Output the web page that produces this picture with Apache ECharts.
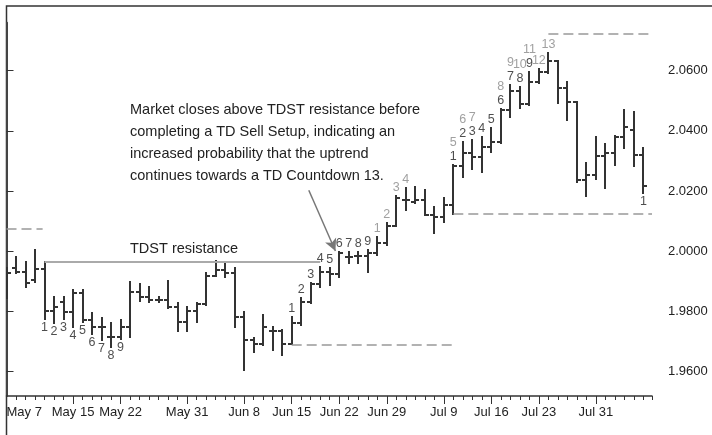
<!DOCTYPE html>
<html>
<head>
<meta charset="utf-8">
<script src="https://cdn.jsdelivr.net/npm/echarts@6/dist/echarts.min.js"></script>
<style>
  html, body { margin: 0; padding: 0; background: #fff; }
  #main { width: 712px; height: 435px; }
</style>
</head>
<body>
<div id="main"></div>
<script>
// x axis: one bar per trading day, index 0..67
const dateLabels = ["May 7", "May 15", "May 22", "May 31", "Jun 8", "Jun 15", "Jun 22", "Jun 29", "Jul 9", "Jul 16", "Jul 23", "Jul 31"]
const dateIndex = [0, 7, 12, 19, 25, 30, 35, 40, 46, 51, 56, 62]
const priceTicks = [1.96, 1.98, 2.0, 2.02, 2.04, 2.06]

const opens = [
  1.9925, 1.9943, 1.9932, 1.9905, 1.9940, 1.9803, 1.9833, 1.9800, 1.9862, 1.9772,
  1.9747, 1.9716, 1.9716, 1.9747, 1.9866, 1.9847, 1.9838, 1.9838, 1.9816, 1.9766,
  1.9803, 1.9825, 1.9918, 1.9938, 1.9929, 1.9783, 1.9705, 1.9692, 1.9736, 1.9736,
  1.9692, 1.9763, 1.9833, 1.9893, 1.9932, 1.9925, 1.9982, 1.9985, 1.9985, 1.9995,
  2.0027, 2.0084, 2.0170, 2.0165, 2.0170, 2.0121, 2.0115, 2.0154, 2.0283, 2.0328,
  2.0312, 2.0348, 2.0364, 2.0470, 2.0534, 2.0489, 2.0564, 2.0597, 2.0633, 2.0541,
  2.0497, 2.0237, 2.0254, 2.0317, 2.0328, 2.0379, 2.0403, 2.0320,
]
const highs = [
  1.9943, 1.9980, 1.9966, 2.0004, 1.9966, 1.9847, 1.9849, 1.9871, 1.9871, 1.9796,
  1.9779, 1.9763, 1.9772, 1.9899, 1.9891, 1.9882, 1.9849, 1.9902, 1.9827, 1.9816,
  1.9827, 1.9927, 1.9969, 1.9960, 1.9943, 1.9799, 1.9712, 1.9788, 1.9747, 1.9739,
  1.9781, 1.9845, 1.9896, 1.9949, 1.9944, 1.9999, 1.9999, 1.9999, 2.0004, 2.0049,
  2.0093, 2.0184, 2.0209, 2.0215, 2.0204, 2.0148, 2.0176, 2.0287, 2.0364, 2.0370,
  2.0381, 2.0409, 2.0474, 2.0553, 2.0547, 2.0597, 2.0605, 2.0658, 2.0633, 2.0564,
  2.0497, 2.0292, 2.0381, 2.0357, 2.0383, 2.0469, 2.0464, 2.0342,
]
const lows = [
  1.9844, 1.9927, 1.9882, 1.9899, 1.9775, 1.9763, 1.9775, 1.9747, 1.9766, 1.9725,
  1.9705, 1.9681, 1.9708, 1.9716, 1.9836, 1.9833, 1.9833, 1.9810, 1.9736, 1.9736,
  1.9766, 1.9822, 1.9918, 1.9914, 1.9747, 1.9605, 1.9665, 1.9690, 1.9672, 1.9655,
  1.9691, 1.9755, 1.9827, 1.9882, 1.9888, 1.9916, 1.9960, 1.9960, 1.9932, 1.9988,
  2.0021, 2.0084, 2.0137, 2.0160, 2.0121, 2.0060, 2.0098, 2.0124, 2.0248, 2.0272,
  2.0265, 2.0331, 2.0359, 2.0447, 2.0475, 2.0485, 2.0558, 2.0594, 2.0492, 2.0436,
  2.0230, 2.0184, 2.0239, 2.0209, 2.0287, 2.0342, 2.0283, 2.0195,
]
const closes = [
  1.9927, 1.9930, 1.9896, 1.9940, 1.9803, 1.9816, 1.9799, 1.9862, 1.9772, 1.9747,
  1.9747, 1.9716, 1.9747, 1.9866, 1.9849, 1.9838, 1.9838, 1.9816, 1.9766, 1.9803,
  1.9825, 1.9918, 1.9938, 1.9929, 1.9783, 1.9705, 1.9692, 1.9747, 1.9736, 1.9692,
  1.9763, 1.9833, 1.9893, 1.9932, 1.9925, 1.9995, 1.9982, 1.9985, 1.9993, 2.0027,
  2.0084, 2.0176, 2.0170, 2.0170, 2.0121, 2.0115, 2.0154, 2.0283, 2.0328, 2.0312,
  2.0348, 2.0364, 2.0470, 2.0534, 2.0489, 2.0564, 2.0597, 2.0633, 2.0541, 2.0497,
  2.0237, 2.0254, 2.0317, 2.0328, 2.0379, 2.0412, 2.0320, 2.0218,
]

// TD Sequential counts: bar index of each count 1, 2, 3 ...
const buySetupBars = [4, 5, 6, 7, 8, 9, 10, 11, 12]
const sellSetupBars = [30, 31, 32, 33, 34, 35, 36, 37, 38]
const sellSetup2Bars = [47, 48, 49, 50, 51, 52, 53, 54, 55]
const countdownBars = [39, 40, 41, 42, 47, 48, 49, 52, 53, 54, 55, 56, 57]
const newBuySetupBars = [67]

// levels: [from bar, to bar, price]
const tdstResistance = [4, 33, 1.9965]
const dashedLevels = [
  [0, 3.8, 2.0074],
  [30, 47, 1.9691],
  [47, 67.9, 2.0126],
  [57, 67.9, 2.0724],
]
const arrowFrom = [31.8, 2.0203]
const arrowTo = [34.6, 2.0001]

const xMax = 67.9
const font = "Liberation Sans, Arial, sans-serif"

const ohlc = opens.map((o, i) => [i, o, highs[i], lows[i], closes[i]])

const countLabels = (bars, anchor, color, position) =>
  bars.map((b, k) => {
    const stacked = color !== "#222" && sellSetup2Bars.includes(b)
    return {
      value: [b, anchor[b], String(k + 1)],
      label: {
        color,
        position,
        offset: stacked ? [0, -14] : [0, 0],
      },
    }
  })

const labelSeries = (data) => ({
  type: "scatter",
  symbolSize: 0,
  silent: true,
  data,
  label: {
    show: true,
    formatter: (p) => p.value[2],
    fontFamily: font,
    fontSize: 12.5,
    distance: 2,
  },
})

const chart = echarts.init(document.getElementById("main"))

const option = {
  animation: false,
  backgroundColor: "#fff",
  grid: { left: 6.5, right: 60, top: 22.7, bottom: 39, outerBoundsMode: "none" },
  xAxis: [
    {
      type: "value",
      min: 0,
      max: xMax,
      interval: 1,
      splitLine: { show: false },
      axisLine: { show: true, lineStyle: { color: "#333", width: 1.5 } },
      axisTick: { show: true, length: 4, lineStyle: { color: "#333", width: 1 } },
      axisLabel: { show: false },
    },
    {
      type: "value",
      min: 0,
      max: xMax,
      position: "bottom",
      splitLine: { show: false },
      axisLine: { show: false },
      axisTick: { show: true, length: 8, customValues: dateIndex, lineStyle: { color: "#333", width: 1 } },
      axisLabel: {
        show: true,
        customValues: dateIndex,
        formatter: (v) => dateLabels[dateIndex.indexOf(v)],
        alignMinLabel: "left",
        margin: 10,
        color: "#222",
        fontFamily: font,
        fontSize: 13,
      },
    },
  ],
  yAxis: {
    type: "value",
    position: "right",
    min: 1.95193,
    max: 2.07595,
    splitLine: { show: false },
    axisLine: { show: true, lineStyle: { color: "#444", width: 2 } },
    axisTick: { show: true, length: 7, customValues: priceTicks, lineStyle: { color: "#333", width: 1 } },
    axisLabel: {
      customValues: priceTicks,
      formatter: (v) => v.toFixed(4),
      margin: 16,
      color: "#222",
      fontFamily: font,
      fontSize: 13,
    },
  },
  series: [
    {
      type: "custom",
      clip: true,
      data: ohlc,
      renderItem: (params, api) => {
        const i = api.value(0)
        const o = api.coord([i, api.value(1)])
        const h = api.coord([i, api.value(2)])
        const l = api.coord([i, api.value(3)])
        const c = api.coord([i, api.value(4)])
        // snap to whole pixels so the 2px strokes stay crisp
        const x = Math.round(h[0])
        const style = { stroke: "#333", lineWidth: 2 }
        return {
          type: "group",
          children: [
            { type: "line", shape: { x1: x, y1: Math.round(h[1]) - 1, x2: x, y2: Math.round(l[1]) + 1 }, style },
            { type: "line", shape: { x1: x - 4, y1: Math.round(o[1]), x2: x, y2: Math.round(o[1]) }, style },
            { type: "line", shape: { x1: x, y1: Math.round(c[1]), x2: x + 4, y2: Math.round(c[1]) }, style },
          ],
        }
      },
      markLine: {
        silent: true,
        symbol: "none",
        label: { show: false },
        data: [
          [
            { coord: [tdstResistance[0], tdstResistance[2]], lineStyle: { color: "#aaa", width: 2, type: "solid" } },
            { coord: [tdstResistance[1], tdstResistance[2]] },
          ],
          ...dashedLevels.map((d) => [
            { coord: [d[0], d[2]], lineStyle: { color: "#999", width: 1.5, type: [10, 5] } },
            { coord: [d[1], d[2]] },
          ]),
          [
            { coord: arrowFrom, symbol: "none", lineStyle: { color: "#777", width: 1.5, type: "solid" } },
            { coord: arrowTo, symbol: "arrow", symbolSize: [9, 12] },
          ],
        ],
      },
    },
    labelSeries(countLabels(buySetupBars, lows, "#222", "bottom")),
    labelSeries(countLabels(sellSetupBars, highs, "#222", "top")),
    labelSeries(countLabels(sellSetup2Bars, highs, "#222", "top")),
    labelSeries(countLabels(countdownBars, highs, "#888", "top")),
    labelSeries(countLabels(newBuySetupBars, lows, "#222", "bottom")),
  ],
  graphic: [
    {
      type: "polyline",
      silent: true,
      shape: { points: [[6.5, 435], [6.5, 6], [712, 6]] },
      style: { stroke: "#333", lineWidth: 1.5, fill: null },
    },
    {
      type: "text",
      left: 130,
      top: 99,
      silent: true,
      style: {
        text: "Market closes above TDST resistance before\ncompleting a TD Sell Setup, indicating an\nincreased probability that the uptrend\ncontinues towards a TD Countdown 13.",
        fill: "#222",
        font: "14.5px " + font,
        lineHeight: 22,
      },
    },
    {
      type: "text",
      left: 130,
      top: 241,
      silent: true,
      style: { text: "TDST resistance", fill: "#222", font: "14.5px " + font },
    },
  ],
}

option && chart.setOption(option)
</script>
</body>
</html>
